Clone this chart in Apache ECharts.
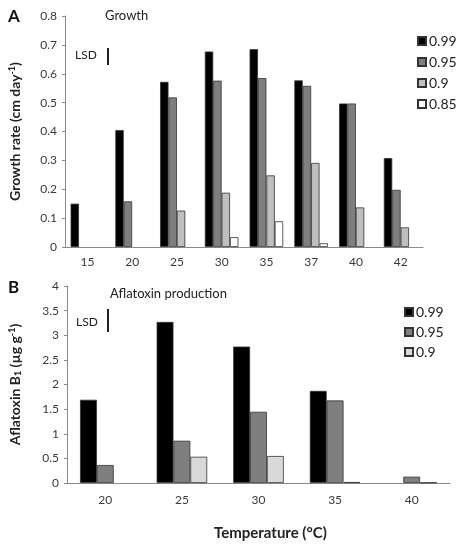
<!DOCTYPE html>
<html>
<head>
<meta charset="utf-8">
<script src="https://cdn.jsdelivr.net/npm/echarts@6/dist/echarts.min.js"></script>
<style>
  html, body { margin: 0; padding: 0; background: #fff; }
  #main { width: 470px; height: 550px; }
</style>
</head>
<body>
<div id="main"></div>
<script>
// panel A: growth rate by temperature and water activity (null = no bar)
var growthTemps = ['15', '20', '25', '30', '35', '37', '40', '42'];
var growth099 = [0.15, 0.405, 0.572, 0.677, 0.685, 0.577, 0.497, 0.308];
var growth095 = [null, 0.158, 0.518, 0.576, 0.585, 0.558, 0.497, 0.198];
var growth090 = [null, null, 0.126, 0.188, 0.248, 0.291, 0.137, 0.068];
var growth085 = [null, null, null, 0.034, 0.089, 0.013, null, null];

// panel B: aflatoxin B1 production
var toxinTemps = ['20', '25', '30', '35', '40'];
var toxin099 = [1.69, 3.27, 2.77, 1.87, null];
var toxin095 = [0.365, 0.858, 1.446, 1.676, 0.128];
var toxin090 = [null, 0.533, 0.548, 0.02, 0.01];

var FONT = 'Lato, "Open Sans", sans-serif';
var chart = echarts.init(document.getElementById('main'));

function barSeries(name, data, color, xi) {
  return {
    name: name,
    type: 'bar',
    xAxisIndex: xi,
    yAxisIndex: xi,
    data: data,
    barGap: '0%',
    barCategoryGap: xi == 0 ? '25%' : '34%',
    itemStyle: { color: color, borderColor: '#333', borderWidth: 0.8 },
    animation: false
  };
}

var axisLine = { lineStyle: { color: '#8a8a8a', width: 1 } };
var axisLabel = { color: '#3a3a3a', fontSize: 12, fontFamily: FONT };
var nameStyle = {
  color: '#222', fontSize: 14, fontWeight: 'bold', fontFamily: FONT,
  rich: {
    sup: { fontSize: 9, fontWeight: 'bold', verticalAlign: 'top', color: '#222', fontFamily: FONT, padding: [0, 0, 6, 0] },
    sub: { fontSize: 9, fontWeight: 'bold', verticalAlign: 'bottom', color: '#222', fontFamily: FONT, padding: [6, 0, 0, 0] }
  }
};

var option = {
  backgroundColor: '#fff',
  animation: false,
  grid: [
    { left: 61, top: 16, width: 362, height: 231 },
    { left: 63, top: 286, width: 387, height: 197 }
  ],
  xAxis: [
    {
      type: 'category', gridIndex: 0, data: growthTemps,
      axisLine: axisLine,
      axisTick: { interval: 0, length: 3, lineStyle: { color: '#8a8a8a' } },
      axisLabel: Object.assign({ margin: 9 }, axisLabel)
    },
    {
      type: 'category', gridIndex: 1, data: toxinTemps,
      axisLine: axisLine,
      axisTick: { interval: 0, length: 3, lineStyle: { color: '#8a8a8a' } },
      axisLabel: Object.assign({ margin: 11 }, axisLabel)
    }
  ],
  yAxis: [
    {
      type: 'value', gridIndex: 0, min: 0, max: 0.8, interval: 0.1,
      axisLine: Object.assign({ show: true }, axisLine),
      axisTick: { show: true, length: 3, lineStyle: { color: '#8a8a8a' } },
      splitLine: { show: false },
      axisLabel: Object.assign({ margin: 8 }, axisLabel),
      name: 'Growth rate (cm day{sup|-1})',
      nameLocation: 'middle', nameGap: 42,
      nameTextStyle: nameStyle
    },
    {
      type: 'value', gridIndex: 1, min: 0, max: 4, interval: 0.5,
      axisLine: Object.assign({ show: true }, axisLine),
      axisTick: { show: true, length: 3, lineStyle: { color: '#8a8a8a' } },
      splitLine: { show: false },
      axisLabel: Object.assign({ margin: 8 }, axisLabel),
      name: 'Aflatoxin B{sub|1} (µg g{sup|-1})',
      nameLocation: 'middle', nameGap: 44,
      nameTextStyle: nameStyle
    }
  ],
  legend: [
    {
      orient: 'vertical', left: 412, top: 29,
      itemWidth: 8, itemHeight: 8, itemGap: 7,
      icon: 'rect',
      data: ['0.99', '0.95', '0.9', '0.85'],
      textStyle: { fontSize: 14, color: '#222', fontFamily: FONT, padding: [0, 0, 0, -2] }
    },
    {
      orient: 'vertical', left: 399, top: 300,
      itemWidth: 8, itemHeight: 8, itemGap: 6,
      icon: 'rect',
      data: ['0.99', '0.95', { name: '0.9', itemStyle: { color: '#d9d9d9' } }],
      textStyle: { fontSize: 14, color: '#222', fontFamily: FONT, padding: [0, 0, 0, -2] }
    }
  ],
  series: [
    barSeries('0.99', growth099, '#000000', 0),
    barSeries('0.95', growth095, '#7f7f7f', 0),
    barSeries('0.9', growth090, '#bfbfbf', 0),
    barSeries('0.85', growth085, '#ffffff', 0),
    barSeries('0.99', toxin099, '#000000', 1),
    barSeries('0.95', toxin095, '#7f7f7f', 1),
    barSeries('0.9', toxin090, '#d9d9d9', 1)
  ],
  graphic: [
    { type: 'text', left: 8, top: 8, style: { text: 'A', fontSize: 17, fontWeight: 'bold', fill: '#111', fontFamily: FONT } },
    { type: 'text', left: 8, top: 279, style: { text: 'B', fontSize: 17, fontWeight: 'bold', fill: '#111', fontFamily: FONT } },
    { type: 'text', left: 105, top: 9, style: { text: 'Growth', fontSize: 13, fill: '#222', fontFamily: FONT } },
    { type: 'text', left: 110, top: 287, style: { text: 'Aflatoxin production', fontSize: 13, fill: '#222', fontFamily: FONT } },
    { type: 'text', left: 75, top: 49, style: { text: 'LSD', fontSize: 12, fill: '#222', fontFamily: FONT } },
    { type: 'line', shape: { x1: 108, y1: 48, x2: 108, y2: 65 }, style: { stroke: '#222', lineWidth: 2 } },
    { type: 'text', left: 76, top: 316, style: { text: 'LSD', fontSize: 12, fill: '#222', fontFamily: FONT } },
    { type: 'line', shape: { x1: 108, y1: 309, x2: 108, y2: 332 }, style: { stroke: '#222', lineWidth: 2 } },
    { type: 'text', left: 214, top: 526, style: { text: 'Temperature (°C)', fontSize: 15, fontWeight: 'bold', fill: '#222', fontFamily: FONT } }
  ]
};

chart.setOption(option);
</script>
</body>
</html>
